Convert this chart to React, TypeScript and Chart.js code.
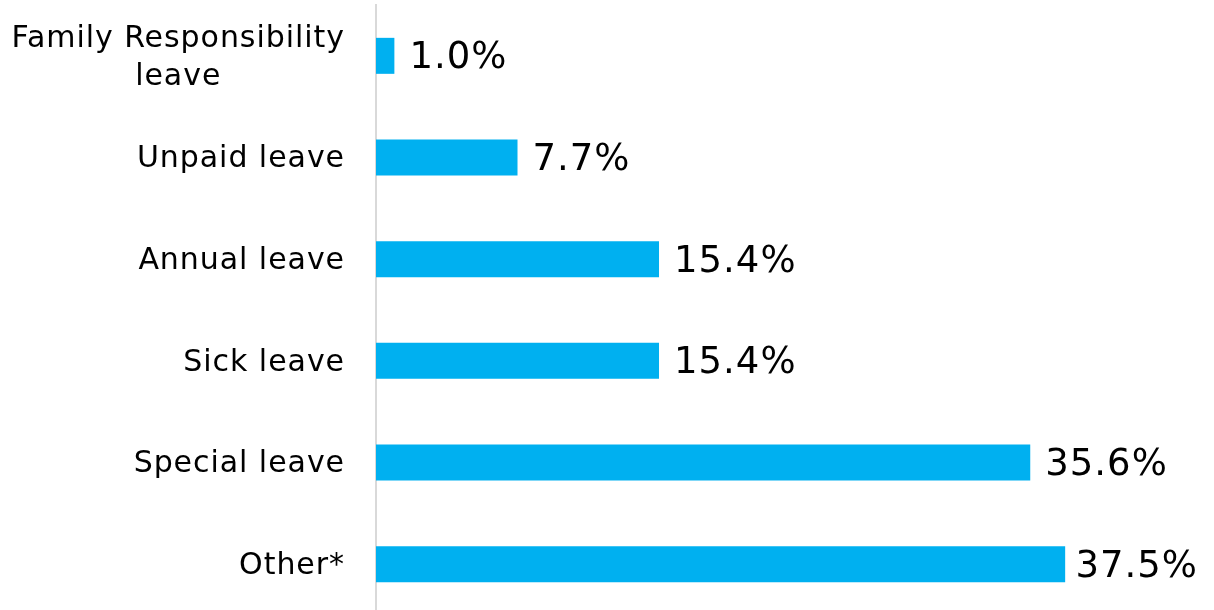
import React, { useEffect, useRef } from "react";
import { Chart, registerables } from "chart.js";

Chart.register(...registerables);

const categories: (string | string[])[] = [
  ["Family Responsibility", "leave"],
  "Unpaid leave",
  "Annual leave",
  "Sick leave",
  "Special leave",
  "Other*",
];
const values: number[] = [1.0, 7.7, 15.4, 15.4, 35.6, 37.5];
const valueLabels: string[] = ["1.0%", "7.7%", "15.4%", "15.4%", "35.6%", "37.5%"];

const BAR_COLOR = "#00B0F0";
const FONT = "'DejaVu Sans', Verdana, sans-serif";

const labelPlugin = {
  id: "customLabels",
  afterDatasetsDraw(chart: any) {
    const ctx = chart.ctx as any;
    const yScale = chart.scales.y;
    const meta = chart.getDatasetMeta(0);
    ctx.save();
    // category labels
    ctx.font = `30px ${FONT}`;
    ctx.letterSpacing = "0.95px";
    ctx.fillStyle = "#000000";
    ctx.textBaseline = "middle";
    ctx.textAlign = "left";
    const rightX = chart.chartArea.left - 31;
    const lineH = 38;
    categories.forEach((cat, i) => {
      const lines = Array.isArray(cat) ? cat : [cat];
      const y = yScale.getPixelForValue(i);
      const widths = lines.map((l) => ctx.measureText(l).width);
      const blockW = Math.max(...widths);
      const cx = rightX - blockW / 2;
      lines.forEach((l, j) => {
        const ly = y + (j - (lines.length - 1) / 2) * lineH + 2;
        ctx.fillText(l, cx - widths[j] / 2, ly);
      });
    });
    // value labels
    ctx.font = `37px ${FONT}`;
    ctx.letterSpacing = "1px";
    ctx.textAlign = "left";
    const maxRight = chart.width - 16;
    meta.data.forEach((bar: any, i: number) => {
      const text = valueLabels[i];
      const w = ctx.measureText(text).width;
      let x = bar.x + 15;
      if (x + w > maxRight) x = Math.max(bar.x + 6, maxRight - w);
      ctx.fillText(text, x, bar.y + 3, maxRight - x);
    });
    ctx.restore();
  },
};

export default function App() {
  const canvasRef = useRef<HTMLCanvasElement | null>(null);

  useEffect(() => {
    if (!canvasRef.current) return;
    const chart = new Chart(canvasRef.current, {
      type: "bar",
      data: {
        labels: categories as any,
        datasets: [
          {
            data: values,
            backgroundColor: BAR_COLOR,
            borderWidth: 0,
            barPercentage: 0.354,
            categoryPercentage: 1,
          },
        ],
      },
      options: {
        indexAxis: "y",
        animation: false,
        responsive: false,
        devicePixelRatio: 1,
        layout: { padding: { left: 376, right: 11, top: 5, bottom: 1 } },
        plugins: {
          legend: { display: false },
          tooltip: { enabled: false },
        },
        scales: {
          x: { display: false, min: 0, max: 45 },
          y: {
            display: true,
            ticks: { display: false },
            grid: { display: false, drawTicks: false },
            border: { display: true, color: "#d9d9d9", width: 2 },
            afterFit: (s: any) => {
              s.width = 0;
            },
          },
        },
      },
      plugins: [labelPlugin],
    });
    return () => chart.destroy();
  }, []);

  return (
    <div
      style={{
        position: "fixed",
        left: 0,
        top: 0,
        width: 1214,
        height: 610,
        overflow: "hidden",
        background: "#ffffff",
      }}
    >
      <canvas ref={canvasRef} width={1214} height={616} style={{ display: "block" }} />
    </div>
  );
}
